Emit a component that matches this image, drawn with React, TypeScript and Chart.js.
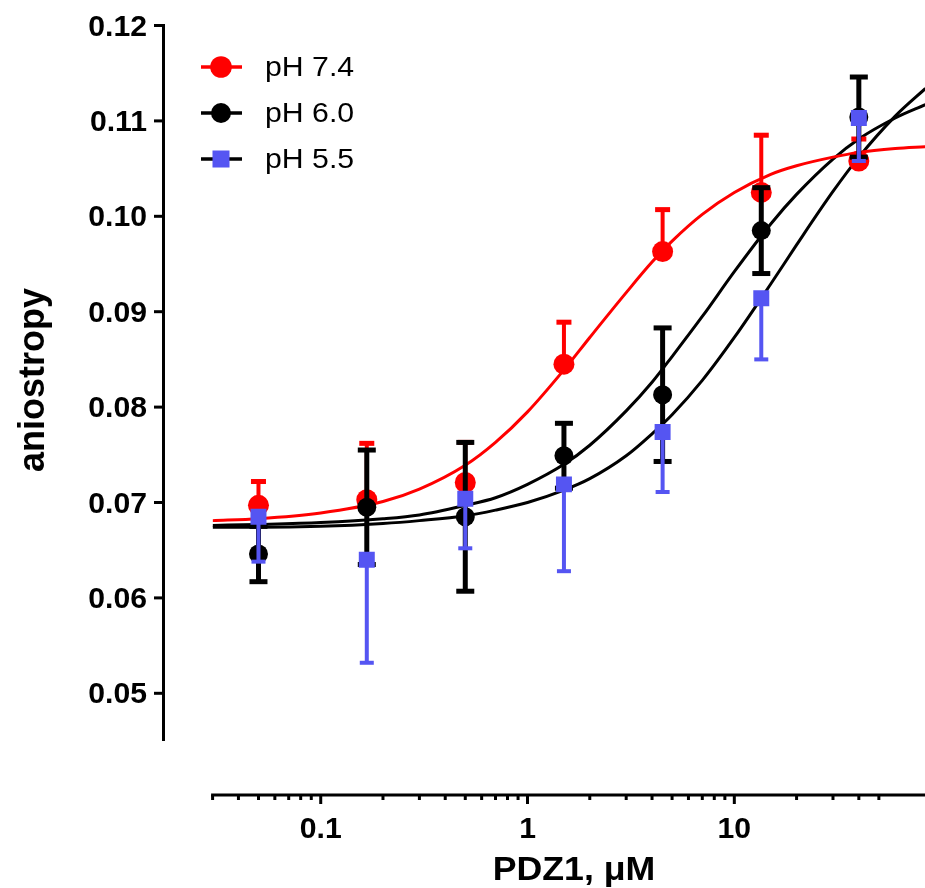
import React, { useEffect, useRef } from "react";
import { Chart, registerables } from "chart.js";

Chart.register(...registerables);

// ---- data ----
const concentrations = [0.05, 0.167, 0.5, 1.5, 4.5, 13.5, 40];

const pH74 = [0.0697, 0.0703, 0.0721, 0.0845, 0.0963, 0.1025, 0.1058];
const pH74Err = [0.0025, 0.0059, 0.0042, 0.0044, 0.0044, 0.006, 0.0023];

const pH60 = [0.0646, 0.0695, 0.0685, 0.0749, 0.0813, 0.0985, 0.1104];
const pH60Err = [0.0029, 0.006, 0.0078, 0.0034, 0.007, 0.0045, 0.0042];

const pH55 = [0.0685, 0.064, 0.0704, 0.0719, 0.0774, 0.0914, 0.1103];
const pH55Err = [0.0047, 0.0108, 0.0052, 0.0091, 0.0063, 0.0064, 0.0045];

// fitted curves
const fitX = [0.03, 0.05, 0.1, 0.2, 0.3, 0.5, 0.7, 1, 1.5, 2, 3, 4, 5, 7, 10, 15, 20, 30, 40, 60, 84];
const fit74 = [0.0681, 0.0683, 0.0689, 0.0701, 0.0714, 0.0739, 0.0763, 0.0795, 0.0839, 0.0873, 0.092, 0.0952, 0.0974, 0.1002, 0.1025, 0.1044, 0.1053, 0.1062, 0.1067, 0.1071, 0.1073];
const fit60 = [0.0676, 0.0677, 0.0679, 0.0683, 0.0687, 0.0697, 0.0705, 0.0719, 0.074, 0.076, 0.0796, 0.0826, 0.0853, 0.0895, 0.0942, 0.0992, 0.1023, 0.106, 0.1081, 0.1103, 0.1117];
const fit55 = [0.0674, 0.0674, 0.0675, 0.0678, 0.0681, 0.0686, 0.0692, 0.07, 0.0713, 0.0725, 0.0749, 0.0772, 0.0792, 0.0828, 0.0873, 0.0929, 0.097, 0.1026, 0.1062, 0.1105, 0.1134];

// axes
const yTicks = [0.05, 0.06, 0.07, 0.08, 0.09, 0.1, 0.11, 0.12];
const yTickLabels = ["0.05", "0.06", "0.07", "0.08", "0.09", "0.10", "0.11", "0.12"];
const xMajorTicks = [0.1, 1, 10];
const xTickLabels = ["0.1", "1", "10"];
const xMinorTicks = [0.03, 0.04, 0.05, 0.06, 0.07, 0.08, 0.09, 0.2, 0.3, 0.4, 0.5, 0.6, 0.7, 0.8, 0.9, 2, 3, 4, 5, 6, 7, 8, 9, 20, 30, 40, 50];
const seriesLabels = ["pH 7.4", "pH 6.0", "pH 5.5"];
const xTitle = "PDZ1, μM";
const yTitle = "aniostropy";

const RED = "#ff0000";
const BLACK = "#000000";
const BLUE = "#5555f2";
const FONT = '"Liberation Sans", Arial, sans-serif';

type ErrInfo = { err: number[]; vals: number[]; up: boolean; down: boolean; color: string; bar: number; capW: number; capT: number };

const errorInfo: Record<string, ErrInfo> = {
  [seriesLabels[0]]: { err: pH74Err, vals: pH74, up: true, down: false, color: RED, bar: 4, capW: 15, capT: 5 },
  [seriesLabels[1]]: { err: pH60Err, vals: pH60, up: true, down: true, color: BLACK, bar: 5, capW: 18, capT: 5 },
  [seriesLabels[2]]: { err: pH55Err, vals: pH55, up: false, down: true, color: BLUE, bar: 4, capW: 14, capT: 4 },
};

function stretchText(ctx: CanvasRenderingContext2D, s: string, x: number, y: number, sx: number) {
  ctx.save();
  ctx.translate(x, y);
  ctx.scale(sx, 1);
  ctx.fillText(s, 0, 0);
  ctx.restore();
}

const errorBarPlugin = {
  id: "errorBars",
  beforeDatasetDraw(chart: any, args: any) {
    const ds = chart.data.datasets[args.index];
    const info = errorInfo[ds.label];
    if (!info || ds.isFit) return;
    const ctx = chart.ctx as CanvasRenderingContext2D;
    const xs = chart.scales.x;
    const ys = chart.scales.y;
    ctx.save();
    ctx.strokeStyle = info.color;
    ctx.fillStyle = info.color;
    ctx.lineWidth = info.bar;
    concentrations.forEach((c, i) => {
      const px = xs.getPixelForValue(c);
      const py = ys.getPixelForValue(info.vals[i]);
      const ends: number[] = [];
      if (info.up) ends.push(ys.getPixelForValue(info.vals[i] + info.err[i]));
      if (info.down) ends.push(ys.getPixelForValue(info.vals[i] - info.err[i]));
      ends.forEach((e) => {
        ctx.beginPath();
        ctx.moveTo(px, py);
        ctx.lineTo(px, e);
        ctx.stroke();
        ctx.fillRect(px - info.capW / 2, e - info.capT / 2, info.capW, info.capT);
      });
    });
    ctx.restore();
  },
};

const axesPlugin = {
  id: "prismAxes",
  afterDraw(chart: any) {
    const ctx = chart.ctx as CanvasRenderingContext2D;
    const xs = chart.scales.x;
    const ys = chart.scales.y;
    const area = chart.chartArea;
    ctx.save();
    ctx.strokeStyle = "#000";
    ctx.fillStyle = "#000";
    ctx.lineWidth = 3;

    // y axis (detached)
    const yAxisX = 163.5;
    ctx.beginPath();
    ctx.moveTo(yAxisX, ys.getPixelForValue(0.12) - 1.5);
    ctx.lineTo(yAxisX, area.bottom);
    ctx.stroke();
    ctx.font = `bold 29px ${FONT}`;
    ctx.textAlign = "right";
    ctx.textBaseline = "middle";
    yTicks.forEach((v, i) => {
      const py = ys.getPixelForValue(v);
      ctx.beginPath();
      ctx.moveTo(154, py);
      ctx.lineTo(yAxisX, py);
      ctx.stroke();
      stretchText(ctx, yTickLabels[i], 147, py + 2, 1.04);
    });

    // x axis (detached)
    const xAxisY = 795;
    ctx.beginPath();
    ctx.moveTo(xs.getPixelForValue(0.03) - 1.5, xAxisY);
    ctx.lineTo(area.right, xAxisY);
    ctx.stroke();
    xMinorTicks.forEach((v) => {
      const px = xs.getPixelForValue(v);
      ctx.beginPath();
      ctx.moveTo(px, xAxisY);
      ctx.lineTo(px, xAxisY + 5);
      ctx.stroke();
    });
    ctx.textAlign = "center";
    ctx.textBaseline = "middle";
    xMajorTicks.forEach((v, i) => {
      const px = xs.getPixelForValue(v);
      ctx.beginPath();
      ctx.moveTo(px, xAxisY);
      ctx.lineTo(px, xAxisY + 9);
      ctx.stroke();
      stretchText(ctx, xTickLabels[i], px, 830, 1.04);
    });

    // titles
    ctx.font = `bold 34px ${FONT}`;
    stretchText(ctx, xTitle, 574, 871, 1.05);
    ctx.save();
    ctx.translate(34, 380);
    ctx.rotate(-Math.PI / 2);
    ctx.font = `bold 36px ${FONT}`;
    ctx.textAlign = "center";
    ctx.textBaseline = "middle";
    ctx.fillText(yTitle, 0, 0);
    ctx.restore();

    // legend
    const legendY = [67, 113, 159];
    const lineColors = [RED, BLACK, BLACK];
    const markColors = [RED, BLACK, BLUE];
    ctx.font = `28px ${FONT}`;
    ctx.textAlign = "left";
    ctx.textBaseline = "middle";
    seriesLabels.forEach((lab, i) => {
      const y = legendY[i];
      ctx.strokeStyle = lineColors[i];
      ctx.lineWidth = 3.5;
      ctx.beginPath();
      ctx.moveTo(201, y);
      ctx.lineTo(242, y);
      ctx.stroke();
      ctx.fillStyle = markColors[i];
      if (i === 2) {
        ctx.fillRect(221 - 8.5, y - 8.5, 17, 17);
      } else {
        ctx.beginPath();
        ctx.arc(221, y, i === 0 ? 10.8 : 10, 0, Math.PI * 2);
        ctx.fill();
      }
      ctx.fillStyle = "#000";
      stretchText(ctx, lab, 265, y + 1, 1.08);
    });
    ctx.restore();
  },
};

export default function App() {
  const ref = useRef<HTMLCanvasElement | null>(null);
  useEffect(() => {
    if (!ref.current) return;
    const pts = (vals: number[]) => concentrations.map((c, i) => ({ x: c, y: vals[i] }));
    const fit = (vals: number[]) => fitX.map((c, i) => ({ x: c, y: vals[i] }));
    const fitStyle = (color: string) => ({
      type: "line" as const,
      borderColor: color,
      borderWidth: 3,
      pointRadius: 0,
      fill: false,
      cubicInterpolationMode: "monotone" as const,
      isFit: true,
    });
    const chart = new Chart(ref.current, {
      type: "line",
      data: {
        datasets: [
          { label: "fit 7.4", data: fit(fit74), order: 10, ...fitStyle(RED) } as any,
          { label: "fit 6.0", data: fit(fit60), order: 11, ...fitStyle(BLACK) } as any,
          { label: "fit 5.5", data: fit(fit55), order: 12, ...fitStyle(BLACK) } as any,
          {
            label: seriesLabels[0],
            data: pts(pH74),
            showLine: false,
            pointStyle: "circle",
            pointRadius: 10.5,
            pointBackgroundColor: RED,
            pointBorderWidth: 0,
            borderColor: RED,
            order: 3,
          },
          {
            label: seriesLabels[1],
            data: pts(pH60),
            showLine: false,
            pointStyle: "circle",
            pointRadius: 9.5,
            pointBackgroundColor: BLACK,
            pointBorderWidth: 0,
            borderColor: BLACK,
            order: 2,
          },
          {
            label: seriesLabels[2],
            data: pts(pH55),
            showLine: false,
            pointStyle: "rect",
            pointRadius: 11.3,
            pointBackgroundColor: BLUE,
            pointBorderWidth: 0,
            borderColor: BLUE,
            order: 1,
          },
        ],
      },
      options: {
        responsive: false,
        animation: false,
        devicePixelRatio: 1,
        layout: { autoPadding: false, padding: { left: 212.6, right: 0, top: 25.5, bottom: 147 } },
        scales: {
          x: { type: "logarithmic", min: 0.03, max: 83.57, display: false },
          y: { type: "linear", min: 0.045, max: 0.12, display: false },
        },
        plugins: { legend: { display: false }, tooltip: { enabled: false } },
        events: [],
      },
      plugins: [errorBarPlugin, axesPlugin],
    });
    return () => chart.destroy();
  }, []);
  return (
    <div style={{ position: "absolute", left: 0, top: 0, width: 925, height: 888, background: "#fff" }}>
      <canvas ref={ref} width={925} height={888} style={{ width: 925, height: 888 }} />
    </div>
  );
}
